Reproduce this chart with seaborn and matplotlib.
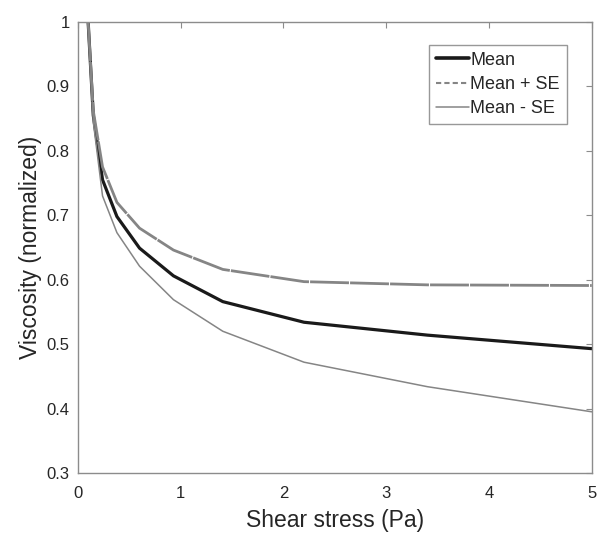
import matplotlib
matplotlib.use("Agg")
import matplotlib.pyplot as plt
from matplotlib.lines import Line2D
import seaborn as sns
import pandas as pd

shear_stress = [0.1, 0.15, 0.24, 0.38, 0.6, 0.93, 1.41, 2.2, 3.4, 5.0]
mean_visc = [1.0, 0.855, 0.755, 0.698, 0.649, 0.606, 0.566, 0.534, 0.514, 0.493]
mean_plus_se = [1.0, 0.862, 0.775, 0.720, 0.680, 0.646, 0.616, 0.597, 0.592, 0.591]
mean_minus_se = [1.0, 0.845, 0.730, 0.673, 0.621, 0.569, 0.520, 0.472, 0.434, 0.395]
x_ticks = [0, 1, 2, 3, 4, 5]
y_ticks = [0.3, 0.4, 0.5, 0.6, 0.7, 0.8, 0.9, 1.0]
y_tick_labels = ["0.3", "0.4", "0.5", "0.6", "0.7", "0.8", "0.9", "1"]

sns.set_style("white")
plt.rcParams["font.family"] = ["Liberation Sans", "DejaVu Sans"]

df = pd.DataFrame({"x": shear_stress, "mean": mean_visc,
                   "plus": mean_plus_se, "minus": mean_minus_se})

fig = plt.figure(figsize=(5.99, 5.36), dpi=100)
ax = fig.add_axes([0.130, 0.1175, 0.858, 0.8415])

sns.lineplot(data=df, x="x", y="mean", ax=ax, color="#1a1a1a", lw=2.3)
sns.lineplot(data=df, x="x", y="plus", ax=ax, color="#858585", lw=2.0,
             linestyle=(0, (14, 0.4)))
sns.lineplot(data=df, x="x", y="minus", ax=ax, color="#858585", lw=1.1)

ax.set_xlim(0, 5)
ax.set_ylim(0.3, 1.0)
ax.set_xticks(x_ticks)
ax.set_xticklabels([str(t) for t in x_ticks])
ax.set_yticks(y_ticks)
ax.set_yticklabels(y_tick_labels)
ax.set_xlabel("Shear stress (Pa)", fontsize=16.5, color="#262626", labelpad=6)
ax.set_ylabel("Viscosity (normalized)", fontsize=16.5, color="#262626", labelpad=3)

for s in ax.spines.values():
    s.set_color("#8c8c8c")
    s.set_linewidth(1.0)
    s.set_visible(True)
ax.tick_params(direction="in", top=True, right=True, length=4, width=0.8,
               color="#8c8c8c", labelsize=12, labelcolor="#262626")
ax.tick_params(axis="x", pad=9)
ax.tick_params(axis="y", pad=6)

handles = [Line2D([], [], color="#1a1a1a", lw=2.6),
           Line2D([], [], color="#858585", lw=1.5, linestyle=(0, (2.5, 1.5))),
           Line2D([], [], color="#858585", lw=1.1)]
leg = ax.legend(handles, ["Mean", "Mean + SE", "Mean - SE"],
                loc="upper right", bbox_to_anchor=(0.952, 0.95), fontsize=13,
                frameon=True, fancybox=False, handlelength=1.8, handletextpad=0.1,
                borderpad=0.4, labelspacing=0.4, borderaxespad=0)
leg.get_frame().set_edgecolor("#7f7f7f")
leg.get_frame().set_linewidth(1.0)

fig.savefig("out.png", dpi=100)
